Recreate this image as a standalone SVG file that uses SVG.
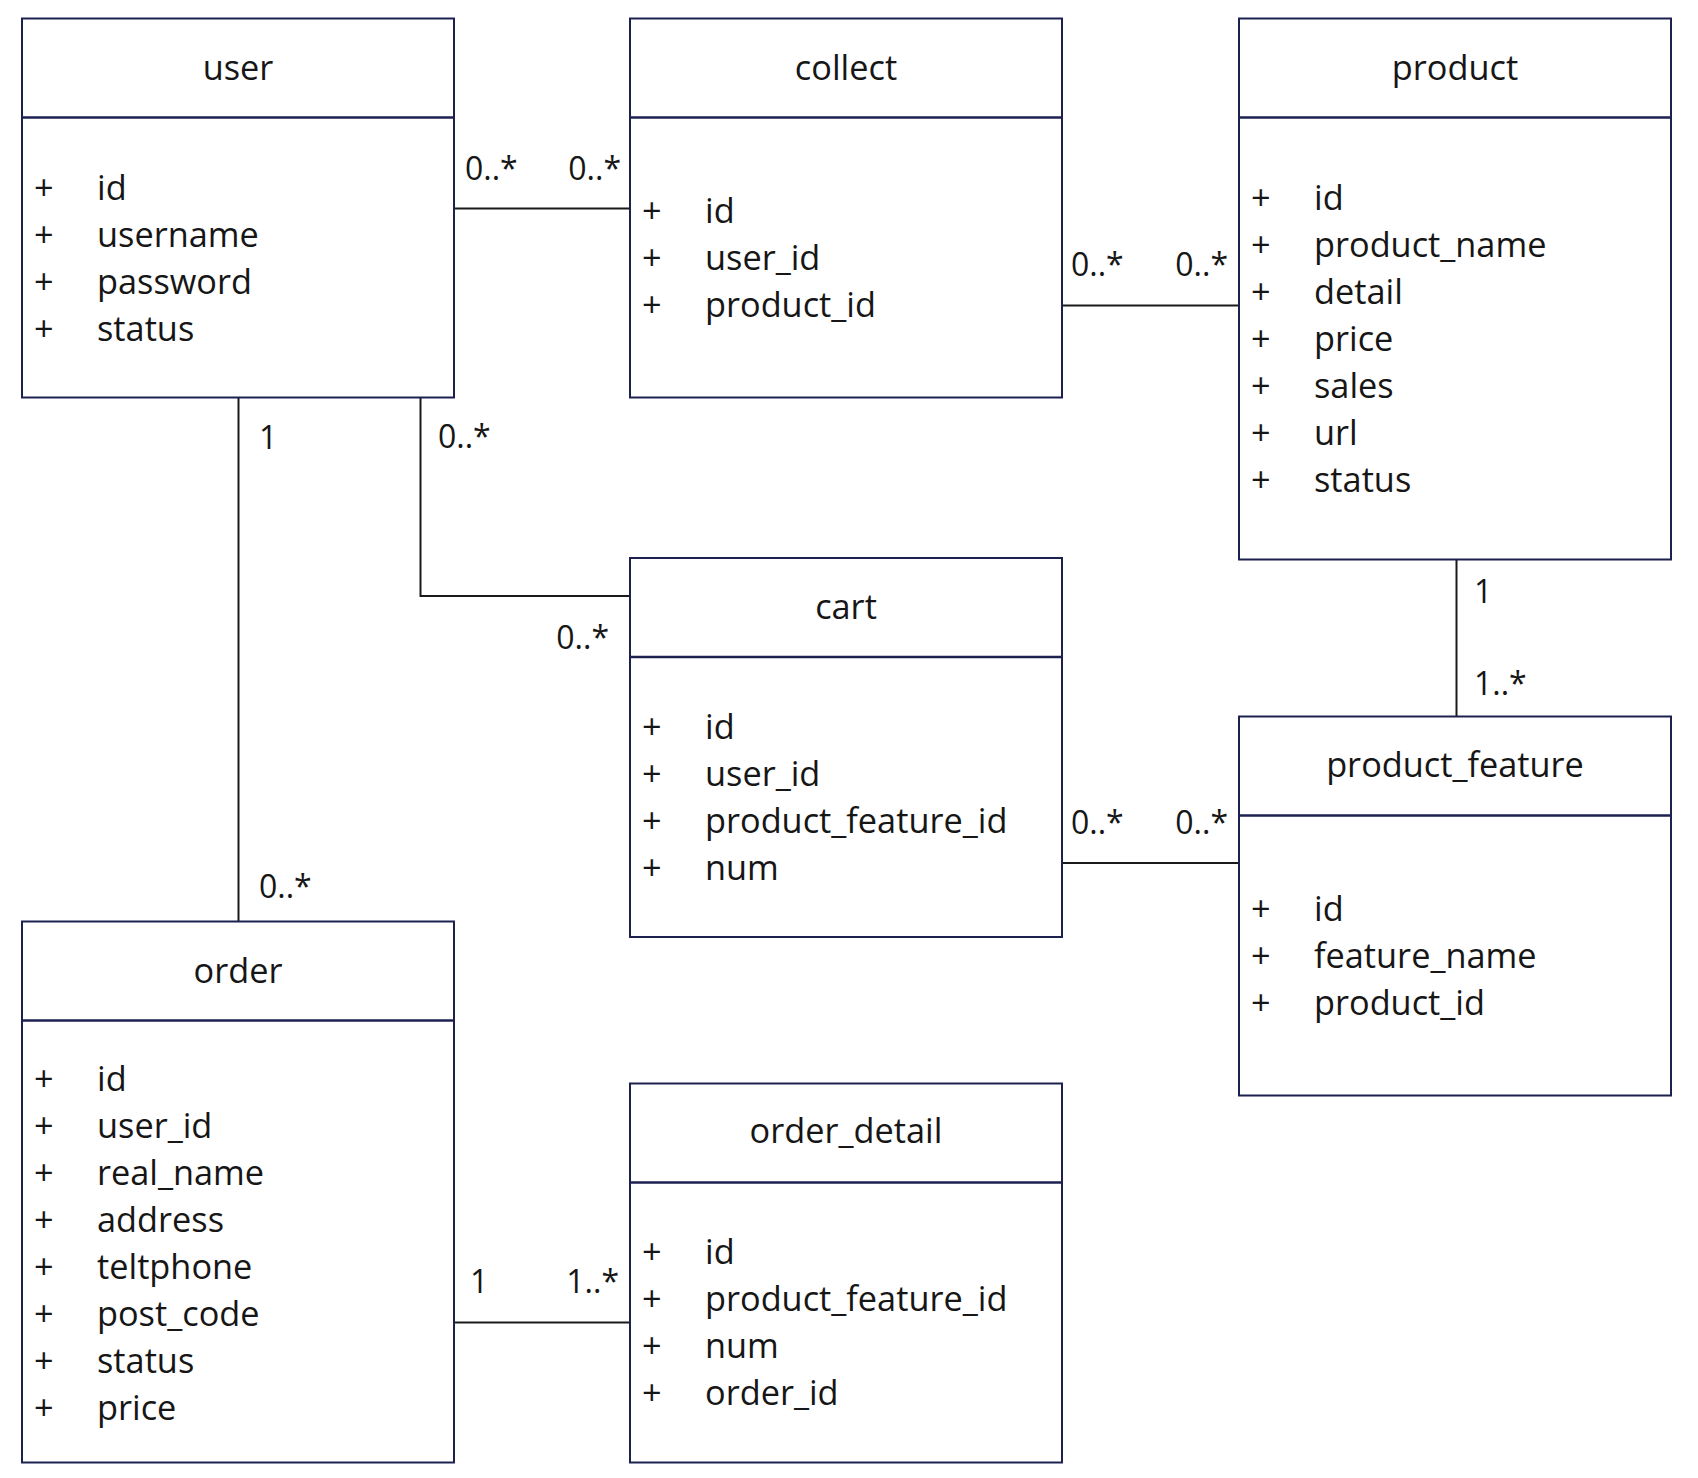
<svg xmlns="http://www.w3.org/2000/svg" width="1698" height="1478" viewBox="0 0 1698 1478">
<style>
.box{fill:#ffffff;stroke:#1c2150;stroke-width:2}
.sep{stroke:#1c2150;stroke-width:2.5}
.t{font-family:"Open Sans","Noto Sans",sans-serif;font-size:34.3px;fill:#161616}
.title{text-anchor:middle}
.lbl{font-family:"Open Sans","Noto Sans",sans-serif;font-size:32px;fill:#161616}
.end{text-anchor:end}
.conn{fill:none;stroke:#1a1a1a;stroke-width:2}
</style>
<rect x="0" y="0" width="1698" height="1478" fill="#ffffff"/>

<g id="connectors">
  <line class="conn" x1="454" y1="208.5" x2="630" y2="208.5"/>
  <line class="conn" x1="1062" y1="305.5" x2="1239" y2="305.5"/>
  <line class="conn" x1="238.5" y1="397.5" x2="238.5" y2="921.5"/>
  <polyline class="conn" points="420.5,397.5 420.5,596 630,596"/>
  <line class="conn" x1="1456.5" y1="559.5" x2="1456.5" y2="716.5"/>
  <line class="conn" x1="1062" y1="863" x2="1239" y2="863"/>
  <line class="conn" x1="454" y1="1322.5" x2="630" y2="1322.5"/>
  <text class="lbl" x="465" y="180">0..*</text>
  <text class="lbl end" x="621" y="180">0..*</text>
  <text class="lbl" x="1071" y="276">0..*</text>
  <text class="lbl end" x="1228" y="276">0..*</text>
  <text class="lbl" x="259" y="449">1</text>
  <text class="lbl" x="259" y="898">0..*</text>
  <text class="lbl" x="438" y="448">0..*</text>
  <text class="lbl end" x="609" y="649">0..*</text>
  <text class="lbl" x="1474" y="603">1</text>
  <text class="lbl" x="1474" y="695">1..*</text>
  <text class="lbl" x="1071" y="834">0..*</text>
  <text class="lbl end" x="1228" y="834">0..*</text>
  <text class="lbl" x="470" y="1293">1</text>
  <text class="lbl end" x="619" y="1293">1..*</text>
</g>

<g id="user">
  <rect class="box" x="22" y="18.5" width="432" height="379"/>
  <line class="sep" x1="22" y1="117.5" x2="454" y2="117.5"/>
  <text class="t title" x="238" y="80">user</text>
  <text class="t"><tspan x="34" y="200">+</tspan><tspan x="97">id</tspan></text>
  <text class="t"><tspan x="34" y="247">+</tspan><tspan x="97">username</tspan></text>
  <text class="t"><tspan x="34" y="294">+</tspan><tspan x="97">password</tspan></text>
  <text class="t"><tspan x="34" y="341">+</tspan><tspan x="97">status</tspan></text>
</g>

<g id="collect">
  <rect class="box" x="630" y="18.5" width="432" height="379"/>
  <line class="sep" x1="630" y1="117.5" x2="1062" y2="117.5"/>
  <text class="t title" x="846" y="80">collect</text>
  <text class="t"><tspan x="642" y="223">+</tspan><tspan x="705">id</tspan></text>
  <text class="t"><tspan x="642" y="270">+</tspan><tspan x="705">user_id</tspan></text>
  <text class="t"><tspan x="642" y="317">+</tspan><tspan x="705">product_id</tspan></text>
</g>

<g id="product">
  <rect class="box" x="1239" y="18.5" width="432" height="541"/>
  <line class="sep" x1="1239" y1="117.5" x2="1671" y2="117.5"/>
  <text class="t title" x="1455" y="80">product</text>
  <text class="t"><tspan x="1251" y="210">+</tspan><tspan x="1314">id</tspan></text>
  <text class="t"><tspan x="1251" y="257">+</tspan><tspan x="1314">product_name</tspan></text>
  <text class="t"><tspan x="1251" y="304">+</tspan><tspan x="1314">detail</tspan></text>
  <text class="t"><tspan x="1251" y="351">+</tspan><tspan x="1314">price</tspan></text>
  <text class="t"><tspan x="1251" y="398">+</tspan><tspan x="1314">sales</tspan></text>
  <text class="t"><tspan x="1251" y="445">+</tspan><tspan x="1314">url</tspan></text>
  <text class="t"><tspan x="1251" y="492">+</tspan><tspan x="1314">status</tspan></text>
</g>

<g id="cart">
  <rect class="box" x="630" y="558" width="432" height="379"/>
  <line class="sep" x1="630" y1="657" x2="1062" y2="657"/>
  <text class="t title" x="846" y="619">cart</text>
  <text class="t"><tspan x="642" y="739">+</tspan><tspan x="705">id</tspan></text>
  <text class="t"><tspan x="642" y="786">+</tspan><tspan x="705">user_id</tspan></text>
  <text class="t"><tspan x="642" y="833">+</tspan><tspan x="705">product_feature_id</tspan></text>
  <text class="t"><tspan x="642" y="880">+</tspan><tspan x="705">num</tspan></text>
</g>

<g id="product_feature">
  <rect class="box" x="1239" y="716.5" width="432" height="379"/>
  <line class="sep" x1="1239" y1="815.5" x2="1671" y2="815.5"/>
  <text class="t title" x="1455" y="777">product_feature</text>
  <text class="t"><tspan x="1251" y="921">+</tspan><tspan x="1314">id</tspan></text>
  <text class="t"><tspan x="1251" y="968">+</tspan><tspan x="1314">feature_name</tspan></text>
  <text class="t"><tspan x="1251" y="1015">+</tspan><tspan x="1314">product_id</tspan></text>
</g>

<g id="order">
  <rect class="box" x="22" y="921.5" width="432" height="541"/>
  <line class="sep" x1="22" y1="1020.5" x2="454" y2="1020.5"/>
  <text class="t title" x="238" y="983">order</text>
  <text class="t"><tspan x="34" y="1091">+</tspan><tspan x="97">id</tspan></text>
  <text class="t"><tspan x="34" y="1138">+</tspan><tspan x="97">user_id</tspan></text>
  <text class="t"><tspan x="34" y="1185">+</tspan><tspan x="97">real_name</tspan></text>
  <text class="t"><tspan x="34" y="1232">+</tspan><tspan x="97">address</tspan></text>
  <text class="t"><tspan x="34" y="1279">+</tspan><tspan x="97">teltphone</tspan></text>
  <text class="t"><tspan x="34" y="1326">+</tspan><tspan x="97">post_code</tspan></text>
  <text class="t"><tspan x="34" y="1373">+</tspan><tspan x="97">status</tspan></text>
  <text class="t"><tspan x="34" y="1420">+</tspan><tspan x="97">price</tspan></text>
</g>

<g id="order_detail">
  <rect class="box" x="630" y="1083.5" width="432" height="379"/>
  <line class="sep" x1="630" y1="1182.5" x2="1062" y2="1182.5"/>
  <text class="t title" x="846" y="1143">order_detail</text>
  <text class="t"><tspan x="642" y="1264">+</tspan><tspan x="705">id</tspan></text>
  <text class="t"><tspan x="642" y="1311">+</tspan><tspan x="705">product_feature_id</tspan></text>
  <text class="t"><tspan x="642" y="1358">+</tspan><tspan x="705">num</tspan></text>
  <text class="t"><tspan x="642" y="1405">+</tspan><tspan x="705">order_id</tspan></text>
</g>
</svg>
